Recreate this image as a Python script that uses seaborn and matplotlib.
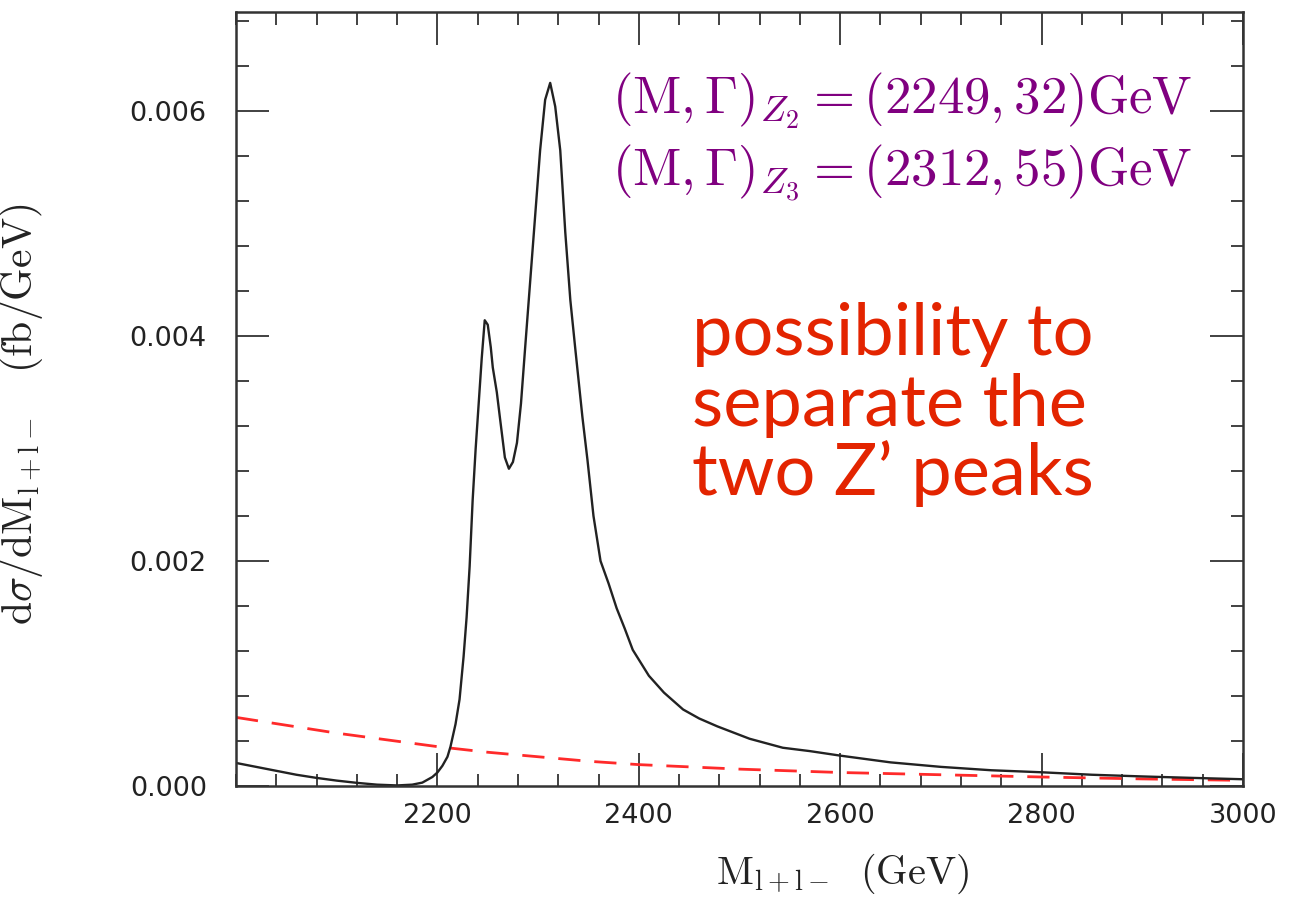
import matplotlib
matplotlib.use("Agg")
import matplotlib.pyplot as plt
import seaborn as sns
import pandas as pd
from matplotlib.ticker import MultipleLocator, FixedLocator

# ---- data ----
signal_mass = [2000, 2020, 2040, 2060, 2080, 2100, 2120, 2140, 2160, 2175, 2185, 2195,
               2200, 2205, 2210, 2213, 2218, 2222, 2226, 2229, 2232, 2235, 2238, 2241,
               2244, 2247, 2250, 2253, 2255, 2259, 2262, 2267, 2271, 2275, 2279, 2283,
               2287, 2292, 2297, 2302, 2307, 2312, 2317, 2322, 2327, 2332, 2337, 2344,
               2349, 2355, 2362, 2370, 2378, 2386, 2394, 2410, 2425, 2444, 2460, 2478,
               2510, 2543, 2570, 2600, 2650, 2700, 2750, 2800, 2850, 2900, 2950, 3000]
signal_xsec = [0.000205, 0.00017, 0.000135, 0.00010, 0.000072, 0.000048, 0.000028, 0.000012,
               0.000005, 0.000012, 0.00003, 0.00008,
               0.00012, 0.00018, 0.00026, 0.00035, 0.00055, 0.00077, 0.00115, 0.0015,
               0.00195, 0.00254, 0.0030, 0.0034,
               0.0038, 0.00414, 0.0041, 0.0039, 0.00372, 0.0035, 0.00328, 0.00292, 0.00282,
               0.00288, 0.00305, 0.0034,
               0.00388, 0.00447, 0.00506, 0.00565, 0.0061, 0.00625, 0.00604, 0.00565,
               0.00492, 0.00432, 0.00388, 0.00328,
               0.0029, 0.0024, 0.0020, 0.0018, 0.00158, 0.0014, 0.00121, 0.00098, 0.00083,
               0.00068, 0.0006, 0.00053,
               0.00042, 0.00034, 0.00031, 0.00027, 0.00021, 0.00017, 0.00014, 0.000122,
               0.0001, 0.000085, 0.000072, 0.00006]

background_mass = [2000, 2050, 2100, 2150, 2200, 2250, 2300, 2350, 2400, 2500,
                   2600, 2700, 2800, 2900, 3000]
background_xsec = [0.00061, 0.00054, 0.00047, 0.00041, 0.00035, 0.0003, 0.00026, 0.00022,
                   0.00019, 0.00015, 0.00012, 0.0001, 0.00008, 0.000063, 0.00005]

x_ticks = [2200, 2400, 2600, 2800, 3000]
x_tick_labels = ["2200", "2400", "2600", "2800", "3000"]
y_ticks = [0.0, 0.002, 0.004, 0.006]
y_tick_labels = ["0.000", "0.002", "0.004", "0.006"]

params_lines = [r"$(\mathrm{M},\Gamma)_{Z_2} = (2249, 32)\mathrm{GeV}$",
                r"$(\mathrm{M},\Gamma)_{Z_3} = (2312, 55)\mathrm{GeV}$"]
note_lines = ["possibility to", "separate the", "two Z\u2019 peaks"]

# ---- plotting ----
sns.set_theme(style="white")
plt.rcParams["mathtext.fontset"] = "cm"
plt.rcParams["font.family"] = ["DejaVu Sans"]

fig = plt.figure(figsize=(13.06, 8.97), dpi=100)
ax = fig.add_axes([236 / 1306, 1 - 786 / 897, (1243 - 236) / 1306, (786 - 12) / 897])

sig = pd.DataFrame({"mass": signal_mass, "xsec": signal_xsec})
bkg = pd.DataFrame({"mass": background_mass, "xsec": background_xsec})

sns.lineplot(data=bkg, x="mass", y="xsec", ax=ax, color="#ff2a2a", lw=2.0,
             estimator=None, sort=True)
ax.lines[-1].set_dashes([8, 5])
sns.lineplot(data=sig, x="mass", y="xsec", ax=ax, color="#222222", lw=1.7,
             estimator=None, sort=True)

ax.set_xlim(2000, 3000)
ax.set_ylim(0, 0.00688)

ax.xaxis.set_major_locator(FixedLocator(x_ticks))
ax.set_xticklabels(x_tick_labels)
ax.xaxis.set_minor_locator(MultipleLocator(40))
ax.yaxis.set_major_locator(FixedLocator(y_ticks))
ax.set_yticklabels(y_tick_labels)
ax.yaxis.set_minor_locator(MultipleLocator(0.0004))

for s in ax.spines.values():
    s.set_visible(True)
    s.set_color("#333333")
    s.set_linewidth(1.8)

ax.tick_params(which="both", direction="in", top=True, right=True, bottom=True, left=True,
               color="#333333", width=1.3)
ax.tick_params(which="major", length=24, labelsize=19.5, labelcolor="#222222")
ax.tick_params(which="minor", length=9)
ax.tick_params(axis="x", which="major", pad=12)
ax.tick_params(axis="y", which="major", pad=21)
for lbl in ax.get_xticklabels():
    lbl.set_x(lbl.get_position()[0])

ax.set_xlabel(r"$\mathrm{M}_{\mathrm{l+l-}}\ \ (\mathrm{GeV})$", fontsize=29, color="#222222")
ax.xaxis.set_label_coords(0.602, -0.085)
ax.set_ylabel(r"$\mathrm{d}\sigma/\mathrm{dM}_{\mathrm{l+l-}}\ \ \ (\mathrm{fb}/\mathrm{GeV})$",
              fontsize=30, color="#222222")
ax.yaxis.set_label_coords(-0.19, 0.48)

for line, ybase in zip(params_lines, [114, 185]):
    fig.text(612 / 1306, 1 - ybase / 897, line, fontsize=38, color="#800080",
             ha="left", va="baseline")

for line, ybase in zip(note_lines, [355, 426, 495]):
    fig.text(692 / 1306, 1 - ybase / 897, line, fontsize=52, color="#e32400",
             family=["Lato", "DejaVu Sans"], ha="left", va="baseline")

fig.savefig("out.png", dpi=100)
